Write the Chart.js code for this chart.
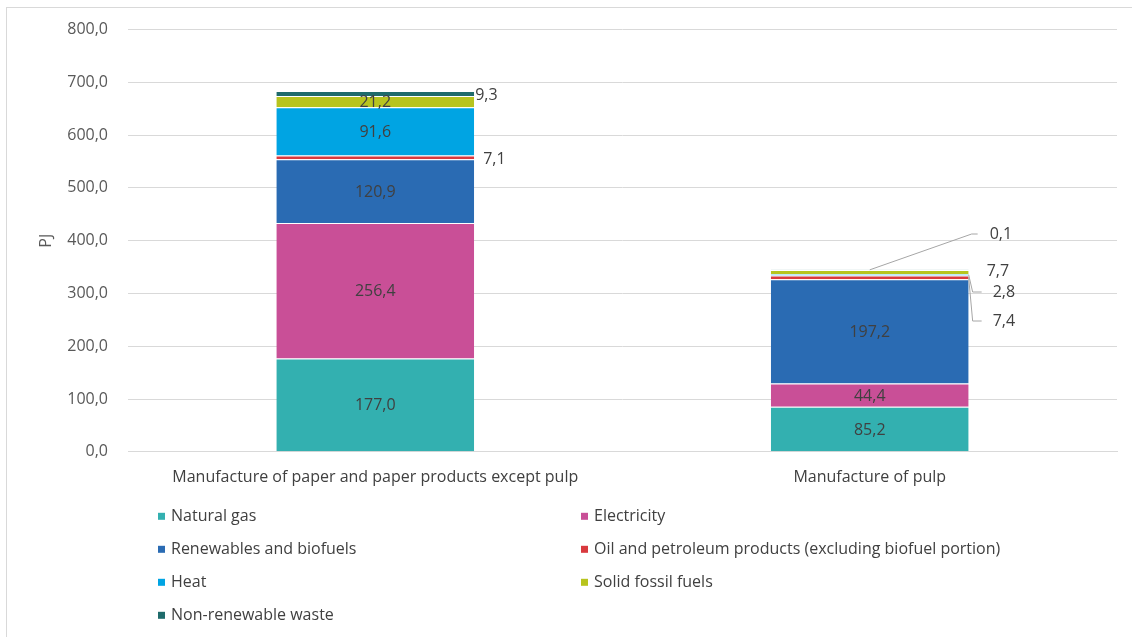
<!DOCTYPE html>
<html>
<head>
<meta charset="utf-8">
<title>Energy use in pulp and paper</title>
<script src="https://cdn.jsdelivr.net/npm/chart.js@4.4.1/dist/chart.umd.min.js"></script>
<style>
  html, body { margin: 0; padding: 0; background: #fff; }
  #wrap { position: relative; width: 1132px; height: 637px; }
</style>
</head>
<body>
<div id="wrap"><canvas id="chart"></canvas></div>
<script>
// categories and series (PJ)
const categories = ['Manufacture of paper and paper products except pulp', 'Manufacture of pulp'];
const seriesNames = [
  'Natural gas',
  'Electricity',
  'Renewables and biofuels',
  'Oil and petroleum products (excluding biofuel portion)',
  'Heat',
  'Solid fossil fuels',
  'Non-renewable waste'
];
const naturalGas   = [177.0, 85.2];
const electricity  = [256.4, 44.4];
const renewables   = [120.9, 197.2];
const oilPetroleum = [7.1, 7.4];
const heat         = [91.6, 2.8];
const solidFossil  = [21.2, 7.7];
const nonRenWaste  = [9.3, 0.1];
const yTicks = [0, 100, 200, 300, 400, 500, 600, 700, 800];

const seriesValues = [naturalGas, electricity, renewables, oilPetroleum, heat, solidFossil, nonRenWaste];
const seriesColors = ['#33b0b0', '#c94f97', '#2a6bb3', '#d9393e', '#00a4e3', '#b7c41e', '#1f6b6b'];

const FONT = "'Open Sans', sans-serif";
const FS = 16;
const TXT = '#404040';

const fmt = v => v.toFixed(1).replace('.', ',');

// labels that sit beside the bar instead of inside it: [series, category]
const outside = [
  { s: 3, c: 0, dx: 9,  ty: null },
  { s: 6, c: 0, dx: 1,  ty: null },
  { s: 3, c: 1, dx: 24, ty: 321, leader: 'side' },
  { s: 4, c: 1, dx: 24, ty: 292, leader: 'side' },
  { s: 5, c: 1, dx: 18, ty: 271 },
  { s: 6, c: 1, dx: 21, ty: 234, leader: 'top' }
];
const isOutside = (s, c) => outside.some(o => o.s === s && o.c === c);

const labelPlugin = {
  id: 'segLabels',
  afterDatasetsDraw(chart) {
    const ctx = chart.ctx;
    ctx.save();
    ctx.font = FS + 'px ' + FONT;
    ctx.fillStyle = TXT;
    ctx.textBaseline = 'middle';
    chart.data.datasets.forEach((ds, s) => {
      const meta = chart.getDatasetMeta(s);
      meta.data.forEach((bar, c) => {
        if (isOutside(s, c)) return;
        ctx.textAlign = 'center';
        ctx.fillText(fmt(ds.data[c]), bar.x, (bar.y + bar.base) / 2 + 1);
      });
    });
    ctx.strokeStyle = '#a6a6a6';
    ctx.lineWidth = 1;
    outside.forEach(o => {
      const bar = chart.getDatasetMeta(o.s).data[o.c];
      const right = bar.x + bar.width / 2;
      const mid = (bar.y + bar.base) / 2;
      const ty = o.ty == null ? mid + 2 : o.ty;
      if (o.leader === 'side') {
        ctx.beginPath();
        ctx.moveTo(right, mid);
        ctx.lineTo(right + 4, ty);
        ctx.lineTo(right + 13, ty);
        ctx.stroke();
      } else if (o.leader === 'top') {
        ctx.beginPath();
        ctx.moveTo(bar.x, bar.y);
        ctx.lineTo(right + 3, ty);
        ctx.lineTo(right + 9, ty);
        ctx.stroke();
      }
      ctx.textAlign = 'left';
      ctx.fillText(fmt(chart.data.datasets[o.s].data[o.c]), right + o.dx, ty);
    });
    ctx.restore();
  }
};

// two-column legend under the axis plus the outer frame
const legendPlugin = {
  id: 'gridLegend',
  afterDraw(chart) {
    const ctx = chart.ctx;
    const area = chart.chartArea;
    ctx.save();
    ctx.strokeStyle = '#d9d9d9';
    ctx.lineWidth = 1;
    ctx.strokeRect(6.5, 7.5, 1200, 700);
    ctx.font = FS + 'px ' + FONT;
    ctx.textBaseline = 'middle';
    ctx.textAlign = 'left';
    const cols = [158, 581];
    chart.data.datasets.forEach((ds, i) => {
      const x = cols[i % 2];
      const y = area.bottom + 65 + Math.floor(i / 2) * 33;
      ctx.fillStyle = ds.backgroundColor;
      ctx.fillRect(x, y - 4, 7, 7);
      ctx.fillStyle = TXT;
      ctx.fillText(ds.label, x + 13, y);
    });
    ctx.restore();
  }
};

new Chart(document.getElementById('chart'), {
  type: 'bar',
  data: {
    labels: categories,
    datasets: seriesNames.map((name, i) => ({
      label: name,
      data: seriesValues[i],
      backgroundColor: seriesColors[i],
      borderColor: 'rgba(255,255,255,0.7)',
      borderWidth: { top: 1 },
      borderSkipped: false,
      categoryPercentage: 1,
      barPercentage: 0.4
    }))
  },
  options: {
    responsive: true,
    maintainAspectRatio: false,
    animation: false,
    devicePixelRatio: 1,
    layout: { padding: { top: 24, left: 37, right: 15, bottom: 142 } },
    plugins: {
      legend: { display: false },
      tooltip: { enabled: false }
    },
    scales: {
      x: {
        stacked: true,
        grid: { display: false },
        border: { color: '#d9d9d9' },
        ticks: { color: TXT, font: { family: FONT, size: FS }, padding: 8 }
      },
      y: {
        stacked: true,
        min: yTicks[0],
        max: yTicks[yTicks.length - 1],
        afterBuildTicks: scale => { scale.ticks = yTicks.map(v => ({ value: v })); },
        afterFit: scale => { scale.width = 91; },
        grid: { color: '#d9d9d9', drawTicks: false },
        border: { display: false },
        ticks: {
          color: '#595959',
          font: { family: FONT, size: FS },
          padding: 20,
          callback: v => fmt(v)
        },
        title: {
          display: true,
          text: 'PJ',
          color: '#595959',
          font: { family: FONT, size: FS },
          padding: { top: 0, bottom: 0 }
        }
      }
    }
  },
  plugins: [labelPlugin, legendPlugin]
});
</script>
</body>
</html>
